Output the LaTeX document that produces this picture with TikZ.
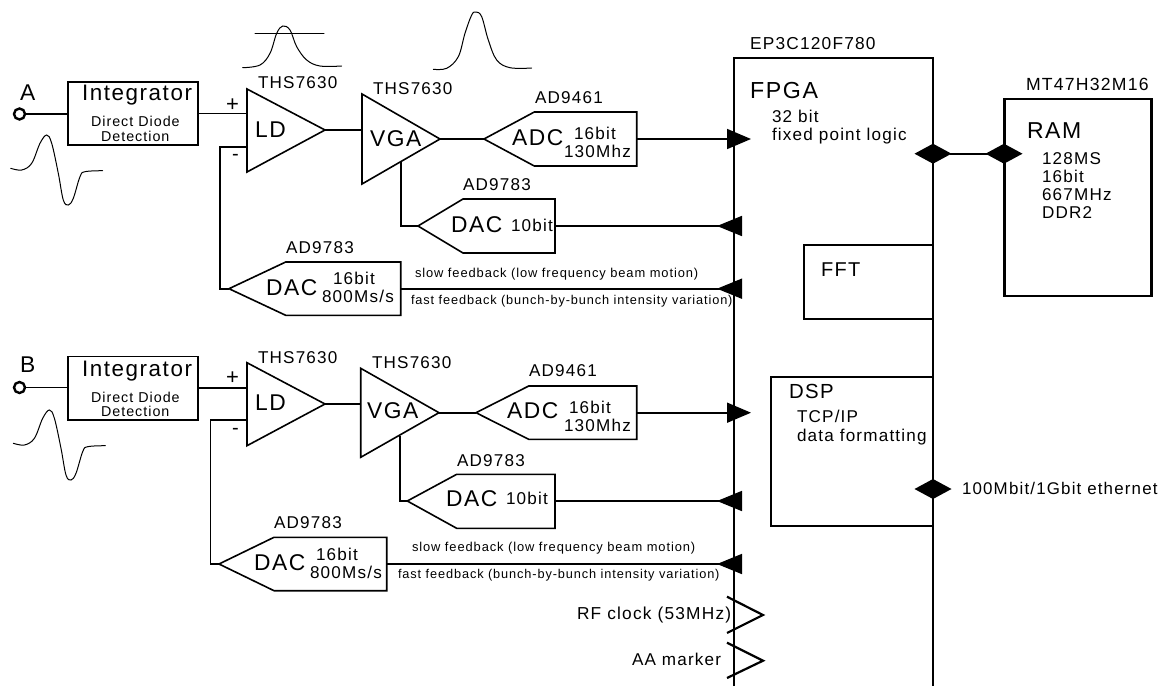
\documentclass[tikz,border=0pt]{standalone}
\usepackage{fontspec}
\setmainfont[LetterSpace=7]{Liberation Sans}
\usetikzlibrary{arrows.meta,shapes.geometric}
\tikzset{
  x=1pt,y=-1pt,
  wire/.style={line width=1.7pt,line join=miter},
  partline/.style={line width=1.6pt,line join=miter},
  chipline/.style={line width=2.8pt,line join=miter},
  wave/.style={line width=1pt,line cap=round},
  boxnode/.style={draw,partline,inner sep=0pt,outer sep=0pt},
  chipnode/.style={draw,chipline,inner sep=0pt,outer sep=0pt},
  into/.style={wire,-{Triangle[length=24pt,width=20pt,sep=0pt]}},
  outof/.style={wire,-{Triangle[reversed,length=25pt,width=20pt]}},
  pad/.style={circle,draw,line width=2.4pt,fill=white,minimum size=11pt,inner sep=0pt},
  bus/.style={diamond,aspect=1.8,fill=black,draw=none,minimum width=37pt,minimum height=20pt,inner sep=0pt,outer sep=0pt},
  txt/.style={anchor=base west,inner sep=0pt,outer sep=0pt},
}
\newcommand{\T}[5]{\node[txt,font=\fontsize{#4pt}{#4pt}\selectfont] (#1) at (#2,#3) {#5};}
\newcommand{\Lrg}[4]{\T{#1}{#2}{#3}{22.8}{#4}}
\newcommand{\Med}[4]{\T{#1}{#2}{#3}{17.1}{#4}}
\newcommand{\Sml}[4]{\T{#1}{#2}{#3}{12.9}{#4}}
% name prefix, vertices of an amplifier triangle
\newcommand{\Amp}[7]{\coordinate (#1a) at (#2,#3);\coordinate (#1b) at (#4,#5);\coordinate (#1t) at (#6,#7);
  \draw[partline] (#1a) -- (#1t) -- (#1b) -- cycle;}
% name, tip x, y, shoulder x, right x, top y, bottom y
\newcommand{\Conv}[7]{\coordinate (#1t) at (#2,#3);\coordinate (#1r) at (#5,#3);
  \draw[partline] (#1t) -- (#4,#6) -- (#5,#6) -- (#5,#7) -- (#4,#7) -- cycle;}
\begin{document}
\begin{tikzpicture}
\useasboundingbox (0,0) rectangle (1160,686);
% ---------- FPGA
\coordinate (fbl) at (734,686);\coordinate (ftl) at (734,58);
\coordinate (ftr) at (933,58);\coordinate (fbr) at (933,686);
\draw[chipline] (fbl) -- (ftl) -- (ftr) -- (fbr);
\draw[chipline] (933,245) -- (804,245) -- (804,319) -- (933,319);
\draw[chipline] (933,377) -- (771,377) -- (771,526) -- (933,526);
\node[chipnode,minimum width=147.5pt,minimum height=197pt] (ram) at (1078,197.5) {};
\T{epname}{750}{49}{17.3}{EP3C120F780}
\T{fpga}{750}{98}{23.2}{FPGA}
\Med{fa}{772}{122.7}{32 bit}
\Med{fb}{772}{140.7}{fixed point logic}
\T{fft}{821}{276.7}{20}{FFT}
\T{dsp}{789}{398}{20.4}{DSP}
\Med{da}{797}{422.7}{TCP/IP}
\Med{db}{797}{441}{data formatting}
\T{mtname}{1026}{90}{17.6}{MT47H32M16}
\T{ramt}{1027}{138}{23}{RAM}
\Med{ra}{1042}{164}{128MS}
\Med{rb}{1042}{182}{16bit}
\Med{rc}{1042}{200}{667MHz}
\Med{rd}{1042}{218}{DDR2}
\node[bus] (d1) at (933,153.7) {};
\node[bus] (d2) at (1004,153.7) {};
\draw[wire,shorten <=-2pt,shorten >=-2pt] (d1) -- (d2);
\node[bus] (d3) at (933,489) {};
\T{eth}{962}{494}{16.9}{100Mbit/1Gbit ethernet}
% ---------- channel A
\node[boxnode,minimum width=130pt,minimum height=63pt] (intA) at (133,113.5) {};
\node[pad] (padA) at (19.5,114) {};
\draw[wire] (padA) -- (intA.west |- padA);
\Lrg{lA}{20}{100}{A}
\T{iA}{82}{100.7}{22.4}{Integrator}
\T{ddA}{91}{126}{14.3}{Direct Diode}
\T{deA}{101}{141}{14.3}{Detection}
\Amp{ldA}{247}{89}{247}{172}{325}{130}
\Amp{vgA}{362}{94}{362}{184}{440}{139}
\Med{t1A}{258}{88}{THS7630}
\Med{t2A}{373}{94.7}{THS7630}
\Lrg{ldlA}{255}{137}{LD}
\Lrg{vglA}{370}{146}{VGA}
\T{pA}{226}{111}{22}{+}
\T{mA}{232}{160}{20}{-}
\coordinate (plusA) at (247,113.5);
\coordinate (minusA) at (247,147);
\draw[wire] (intA.east |- plusA) -- (plusA);
\draw[wire] (ldAt) -- (ldAt -| vgAa);
\Conv{adA}{484}{139}{534.3}{636.7}{112}{166}
\Med{an1A}{535}{103}{AD9461}
\Lrg{adlA}{512}{145}{ADC}
\Med{a16A}{574}{139}{16bit}
\Med{a13A}{564}{157}{130Mhz}
\draw[wire] (vgAt) -- (adAt);
\coordinate (inA1) at (751,139);
\draw[into] (adAr) -- (inA1);
\Conv{daA}{418}{226}{463}{555}{199}{253}
\Med{dn1A}{463}{190}{AD9783}
\Lrg{dalA}{451}{232}{DAC}
\Med{d10A}{511}{231.5}{10bit}
\coordinate (brA) at (401,162);
\draw[wire] (brA) |- (daAt);
\coordinate (inA2) at (742,226);
\draw[outof] (daAr) -- (inA2);
\Conv{fbA}{229}{288.7}{285.7}{400.7}{262}{315.3}
\Med{dn2A}{286}{253}{AD9783}
\Lrg{fblA}{266}{295}{DAC}
\Med{f16A}{333}{284}{16bit}
\Med{f80A}{322}{302}{800Ms/s}
\draw[wire] (minusA) -| (220,288.7) -- (fbAt);
\coordinate (inA3) at (742,288.7);
\draw[outof] (fbAr) -- (inA3);
\Sml{slA}{415}{277}{slow feedback (low frequency beam motion)}
\T{faA}{411}{304}{12.75}{fast feedback (bunch-by-bunch intensity variation)}
% ---------- channel B
\node[boxnode,minimum width=130pt,minimum height=63.3pt] (intB) at (133,388.3) {};
\node[pad] (padB) at (19.5,387.5) {};
\draw[wire] (padB) -- (intB.west |- padB);
\Lrg{lB}{20}{372}{B}
\T{iB}{82}{376.7}{22.4}{Integrator}
\T{ddB}{91}{402.3}{14.3}{Direct Diode}
\T{deB}{101}{416}{14.3}{Detection}
\Amp{ldB}{247}{362.7}{247}{445.7}{325}{404}
\Amp{vgB}{360.7}{368.3}{360.7}{457.3}{439}{412.7}
\Med{t1B}{258}{363}{THS7630}
\Med{t2B}{372}{368}{THS7630}
\Lrg{ldlB}{255}{410}{LD}
\Lrg{vglB}{367}{418}{VGA}
\T{pB}{226}{384}{22}{+}
\T{mB}{232}{434}{20}{-}
\coordinate (plusB) at (247,388.3);
\coordinate (minusB) at (247,420.3);
\draw[wire] (intB.east |- plusB) -- (plusB);
\draw[wire] (ldBt) -- (ldBt -| vgBa);
\Conv{adB}{476}{412.7}{528.7}{636.7}{386}{439.3}
\Med{an1B}{529}{376.7}{AD9461}
\Lrg{adlB}{507}{418.7}{ADC}
\Med{a16B}{569}{413}{16bit}
\Med{a13B}{564}{431}{130Mhz}
\draw[wire] (vgBt) -- (adBt);
\coordinate (inB1) at (751,412.7);
\draw[into] (adBr) -- (inB1);
\Conv{daB}{407.3}{501}{456.7}{555}{474.3}{528.3}
\Med{dn1B}{457}{466}{AD9783}
\Lrg{dalB}{446}{506}{DAC}
\Med{d10B}{506}{504.3}{10bit}
\coordinate (brB) at (400,435.7);
\draw[wire] (brB) |- (daBt);
\coordinate (inB2) at (742,501);
\draw[outof] (daBr) -- (inB2);
\Conv{fbB}{219}{564}{274}{386.7}{537.3}{590.7}
\Med{dn2B}{274}{528.3}{AD9783}
\Lrg{fblB}{254}{570}{DAC}
\Med{f16B}{316}{560}{16bit}
\Med{f80B}{310}{578}{800Ms/s}
\draw[wire] (minusB) -| (210.5,564) -- (fbBt);
\coordinate (inB3) at (742,564);
\draw[outof] (fbBr) -- (inB3);
\Sml{slB}{412}{551}{slow feedback (low frequency beam motion)}
\T{faB}{398}{578}{12.75}{fast feedback (bunch-by-bunch intensity variation)}
% ---------- clock inputs
\T{rf}{577}{619}{17.3}{RF clock (53MHz)}
\Med{aa}{632}{665}{AA marker}
\draw[chipline,line width=2.2pt] (727,596.7) -- (763,615) -- (727,633);
\draw[chipline,line width=2.2pt] (727,642.7) -- (763,660.7) -- (727,678);
% ---------- waveforms
\draw[wave] plot[smooth,tension=0.6] coordinates {(10.7,168.3)(21.7,170)(31.7,163.3)(40,143.3)(46.7,135)(51.7,143.3)(58.3,173.3)(63.3,200)(68.3,205)(73.3,198.3)(80,176.7)(85,171.7)(102.7,170.7)};
\draw[wave,shift={(2.7,275)}] plot[smooth,tension=0.6] coordinates {(10.7,168.3)(21.7,170)(31.7,163.3)(40,143.3)(46.7,135)(51.7,143.3)(58.3,173.3)(63.3,200)(68.3,205)(73.3,198.3)(80,176.7)(85,171.7)(102.7,170.7)};
\draw[wave] plot[smooth,tension=0.6] coordinates {(242.7,67.7)(260,65)(270,53.3)(276.7,33.3)(282.7,26)(290,30)(296.7,46.7)(306.7,60)(320,66)(341.7,66)};
\draw[wave] (255,33) -- (324,33);
\draw[wave] plot[smooth,tension=0.6] coordinates {(433.3,69.3)(446.7,68.3)(458.3,56.7)(465,33.3)(471.7,15)(476,12)(481.7,16.7)(488.3,40)(496.7,60)(510,67.7)(531.7,68)};
\end{tikzpicture}
\end{document}
